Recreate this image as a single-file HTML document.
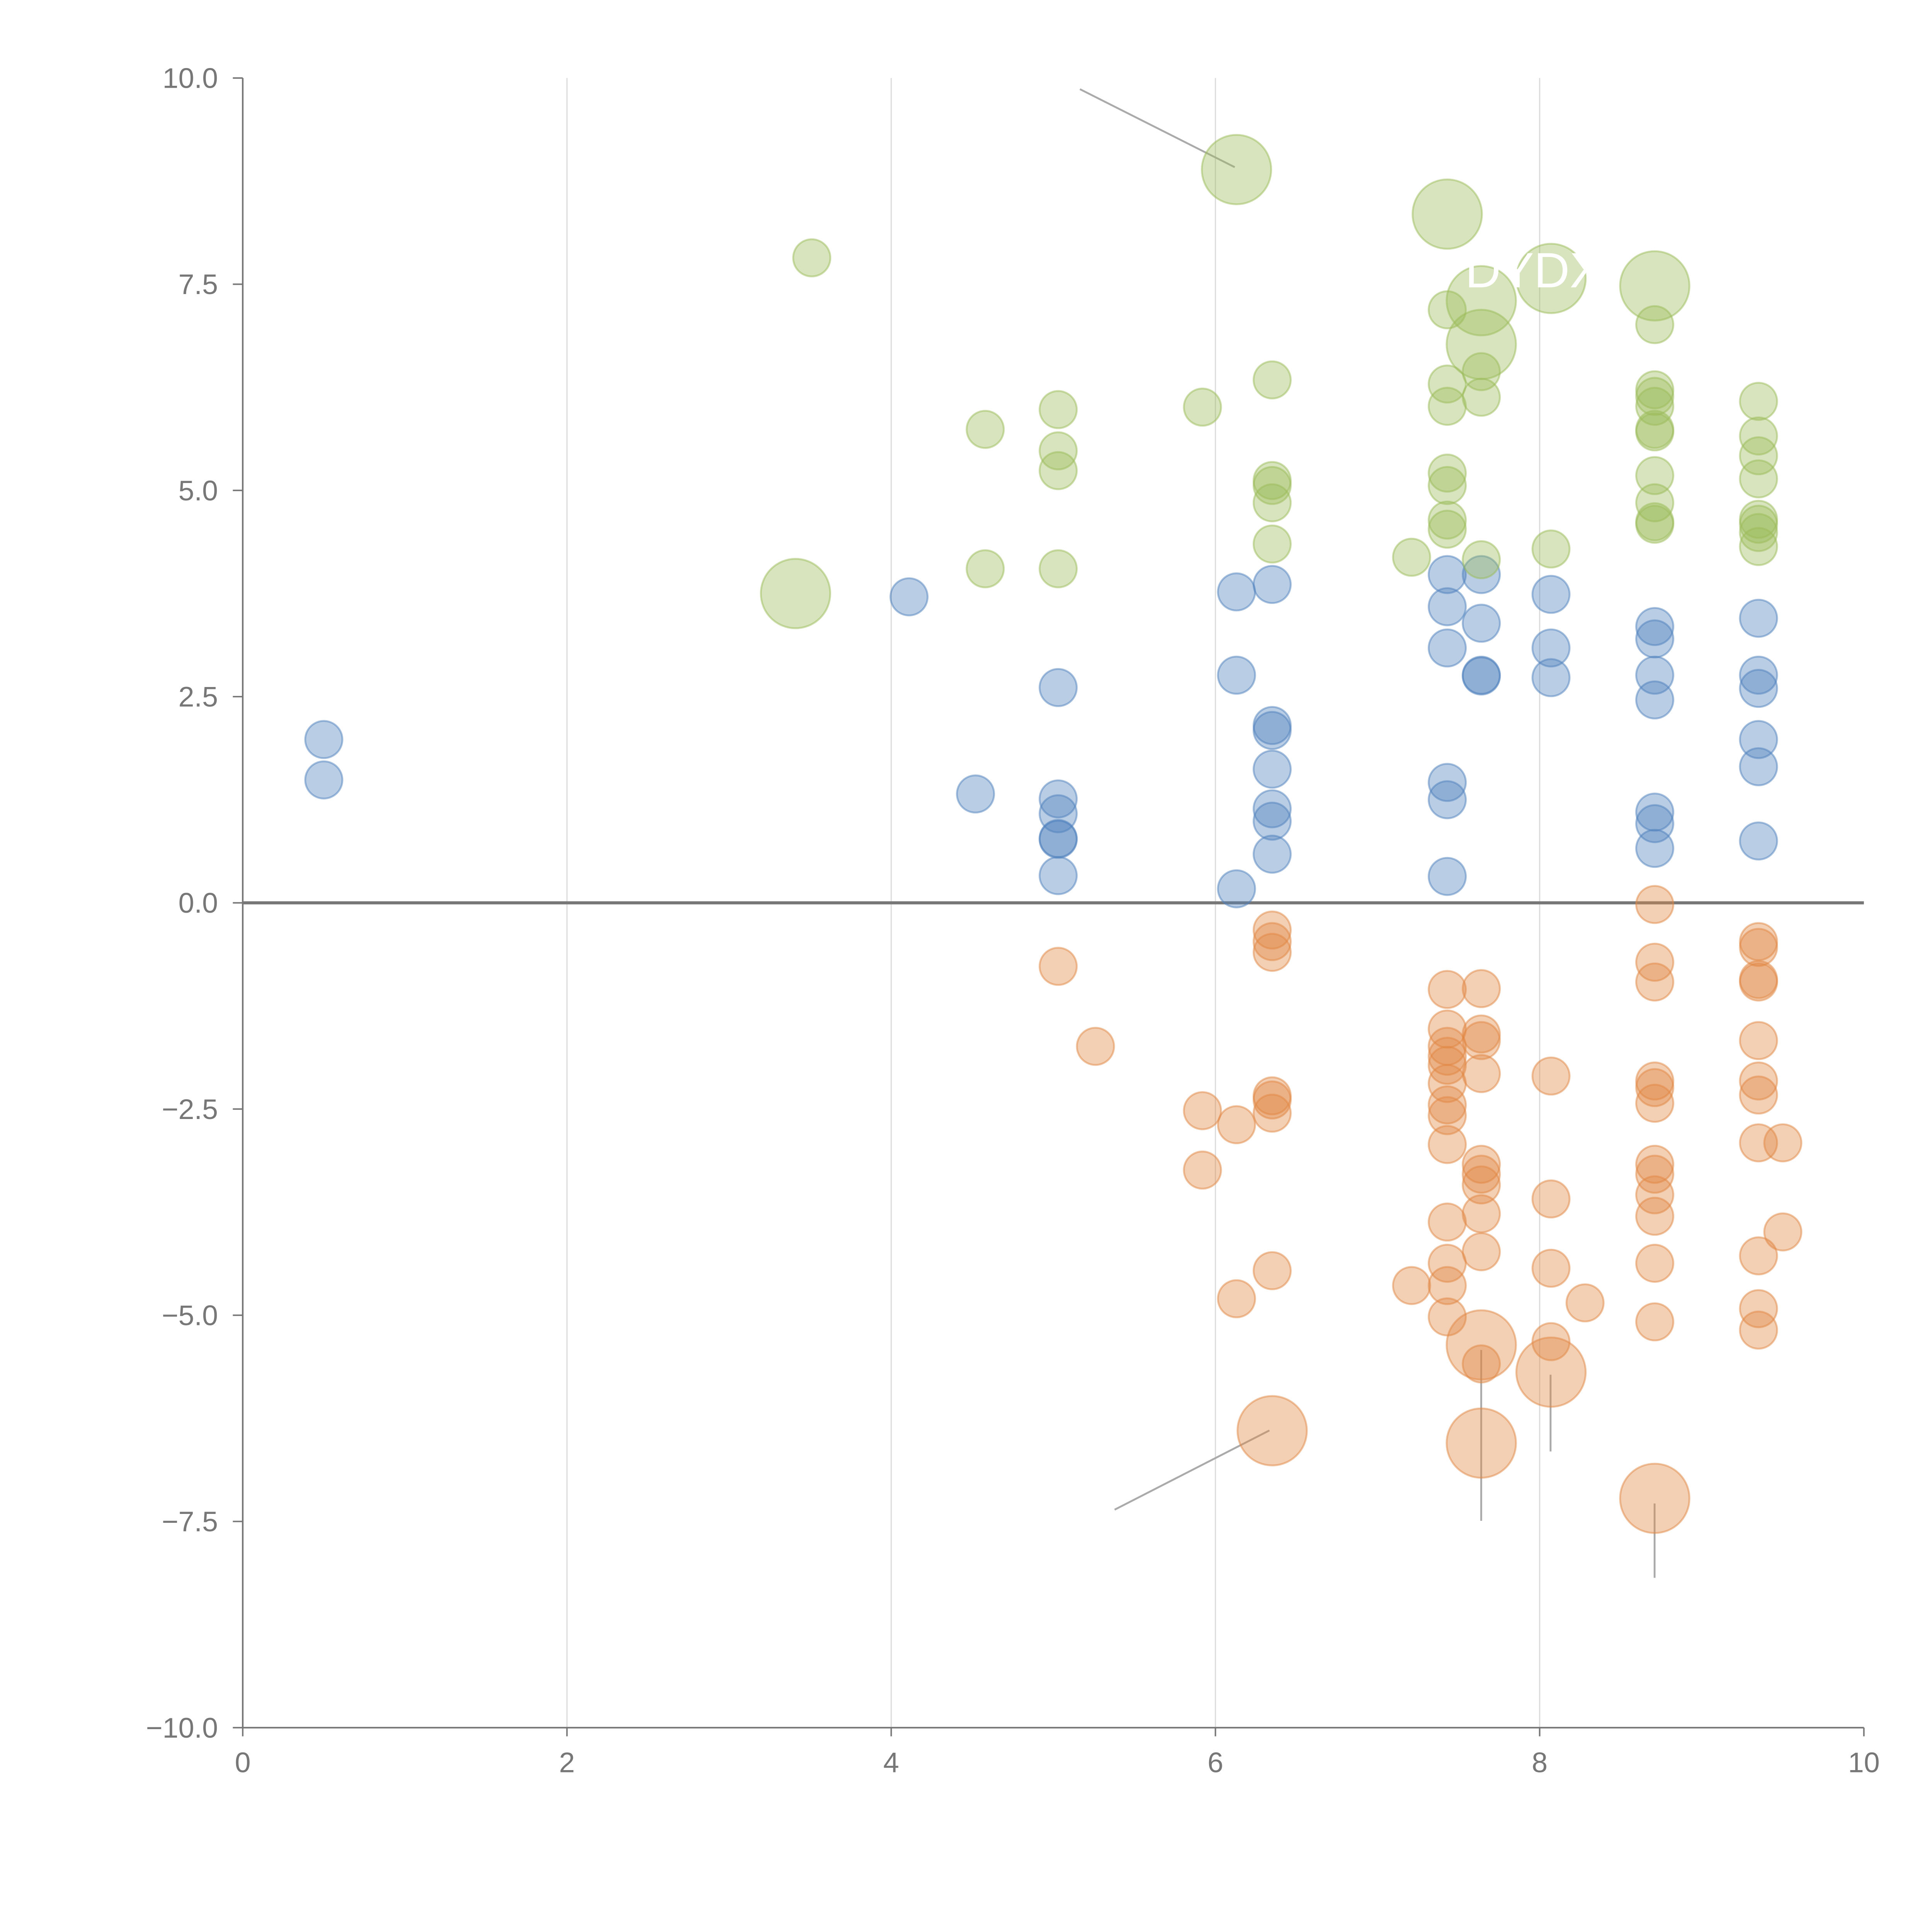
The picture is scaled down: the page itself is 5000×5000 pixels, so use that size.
<!DOCTYPE html>
<html><head><meta charset="utf-8"><style>
html,body{margin:0;padding:0;background:#fff}
svg{display:block}
text{font-family:"Liberation Sans",sans-serif}
</style></head><body>
<svg id="chart" width="5000" height="5000" viewBox="0 0 1560 1560" xmlns="http://www.w3.org/2000/svg">
<g id="grid"></g>
<g id="axes"></g>
<g id="leaders"></g>
<g id="marks"></g>
<text x="1183" y="232" fill="#fff" font-size="40">DYDX</text>
</svg>
<script>
const xTicks=[0,2,4,6,8,10];
const yTicks=[10.0,7.5,5.0,2.5,0.0,-2.5,-5.0,-7.5,-10.0];
const blueX=[0.5,0.5,4.11,4.52,5.03,5.03,5.03,5.03,5.03,5.03,6.13,6.13,6.13,6.35,6.35,6.35,6.35,6.35,6.35,6.35,7.43,7.43,7.43,7.43,7.43,7.43,7.64,7.64,7.64,7.64,8.07,8.07,8.07,8.71,8.71,8.71,8.71,8.71,8.71,8.71,9.35,9.35,9.35,9.35,9.35,9.35];
const blueY=[1.98,1.49,3.71,1.32,2.61,1.26,1.08,0.78,0.77,0.33,3.77,2.76,0.17,3.86,2.15,2.09,1.62,1.14,0.99,0.59,3.98,3.59,3.09,1.46,1.25,0.32,3.98,3.39,2.76,2.75,3.74,3.09,2.73,3.35,3.20,2.76,2.46,1.10,0.96,0.66,3.45,2.76,2.60,1.98,1.65,0.75];
const greenX=[3.51,4.58,4.58,5.03,5.03,5.03,5.03,5.92,6.35,6.35,6.35,6.35,6.35,7.21,7.43,7.43,7.43,7.43,7.43,7.43,7.43,7.64,7.64,7.64,8.07,8.71,8.71,8.71,8.71,8.71,8.71,8.71,8.71,8.71,8.71,9.35,9.35,9.35,9.35,9.35,9.35,9.35,9.35];
const greenY=[7.82,5.74,4.05,5.98,5.48,5.24,4.05,6.01,6.34,5.12,5.06,4.85,4.35,4.19,7.19,6.29,6.02,5.21,5.06,4.64,4.53,6.44,6.13,4.16,4.29,7.01,6.22,6.14,6.02,5.74,5.71,5.18,4.85,4.62,4.59,6.08,5.66,5.42,5.14,4.65,4.59,4.49,4.32];
const greenBigX=[6.13,7.43,7.64,7.64,8.07,8.71,3.41];
const greenBigY=[8.89,8.35,7.30,6.77,7.57,7.48,3.75];
const orangeX=[5.03,5.26,5.92,5.92,6.13,6.13,6.35,6.35,6.35,6.35,6.35,6.35,6.35,7.21,7.43,7.43,7.43,7.43,7.43,7.43,7.43,7.43,7.43,7.43,7.43,7.43,7.43,7.64,7.64,7.64,7.64,7.64,7.64,7.64,7.64,7.64,7.64,8.07,8.07,8.07,8.07,8.28,8.71,8.71,8.71,8.71,8.71,8.71,8.71,8.71,8.71,8.71,8.71,8.71,9.35,9.35,9.35,9.35,9.35,9.35,9.35,9.35,9.35,9.35,9.35,9.5,9.5];
const orangeY=[-0.77,-1.74,-2.52,-3.24,-2.69,-4.80,-0.33,-0.47,-0.60,-2.34,-2.39,-2.55,-4.46,-4.64,-1.05,-1.53,-1.74,-1.86,-1.97,-2.19,-2.45,-2.58,-2.93,-3.87,-4.37,-4.64,-5.02,-1.04,-1.59,-1.67,-2.07,-3.17,-3.29,-3.42,-3.77,-4.23,-5.59,-2.10,-3.59,-4.43,-5.32,-4.85,-0.02,-0.72,-0.96,-2.16,-2.24,-2.43,-3.17,-3.29,-3.54,-3.80,-4.37,-5.08,-0.47,-0.54,-0.93,-0.96,-1.67,-2.16,-2.33,-2.91,-4.28,-4.92,-5.18,-2.91,-3.99];
const orangeBigX=[6.35,7.64,7.64,8.07,8.71];
const orangeBigY=[-6.40,-5.36,-6.55,-5.69,-7.22];

const NS="http://www.w3.org/2000/svg";
const X0=196,X1=1505,YT=63,YB=1395;
const sx=v=>X0+(v-0)/(10-0)*(X1-X0);
const sy=v=>YB-(v+10)/20*(YB-YT);
function mk(tag,attrs,parent){const e=document.createElementNS(NS,tag);for(const k in attrs)e.setAttribute(k,attrs[k]);parent.appendChild(e);return e;}
const grid=document.getElementById('grid'),axes=document.getElementById('axes'),marks=document.getElementById('marks'),lead=document.getElementById('leaders');
xTicks.forEach(t=>{
  if(t>0&&t<10){const g=mk('line',{x1:sx(t),x2:sx(t),y1:YT,y2:YB,stroke:'#dddddd','stroke-width':1},grid);
  
  }
  const tk=mk('line',{x1:sx(t),x2:sx(t),y1:YB,y2:YB+7,stroke:'#777','stroke-width':1.2},axes);
  
  
  const tx=mk('text',{x:sx(t),y:YB+36,'text-anchor':'middle','font-size':23,fill:'#777'},axes);
  tx.textContent=t;
  
  
});
yTicks.forEach(t=>{
  const tk=mk('line',{x1:X0-8,x2:X0,y1:sy(t),y2:sy(t),stroke:'#777','stroke-width':1.2},axes);
  
  
  const tx=mk('text',{x:X0-20,y:sy(t)+8,'text-anchor':'end','font-size':23,fill:'#777'},axes);
  tx.textContent=t.toFixed(1).replace('-','\u2212');
  
  
});
let a=mk('line',{x1:X0,x2:X0,y1:YT,y2:YB,stroke:'#777','stroke-width':1.3},axes);


a=mk('line',{x1:X0,x2:X1,y1:YB,y2:YB,stroke:'#777','stroke-width':1.3},axes);


a=mk('line',{x1:X0,x2:X1,y1:sy(0),y2:sy(0),stroke:'#777','stroke-width':2.5},axes);


[[872,72,997,135],[900,1219,1025,1155],[1196,1090,1196,1228],[1252,1110,1252,1172],[1336,1214,1336,1274]].forEach(l=>{
  const e=mk('line',{x1:l[0],y1:l[1],x2:l[2],y2:l[3],stroke:'#aaa','stroke-width':1.5},lead);
  
  
});
function series(xs,ys,r,color,name){
  xs.forEach((x,i)=>{
    const c=mk('circle',{cx:sx(x),cy:sy(ys[i]),r:r,fill:color,'fill-opacity':0.4,stroke:color,'stroke-opacity':0.5,'stroke-width':1.5},marks);
    
    
  });
}
series(blueX,blueY,15,'rgb(79,129,189)','blue-bubble');
series(greenX,greenY,15,'rgb(155,187,89)','green-bubble');
series(greenBigX,greenBigY,28,'rgb(155,187,89)','green-big-bubble');
series(orangeX,orangeY,15,'rgb(226,135,67)','orange-bubble');
series(orangeBigX,orangeBigY,28,'rgb(226,135,67)','orange-big-bubble');
</script>
</body></html>
